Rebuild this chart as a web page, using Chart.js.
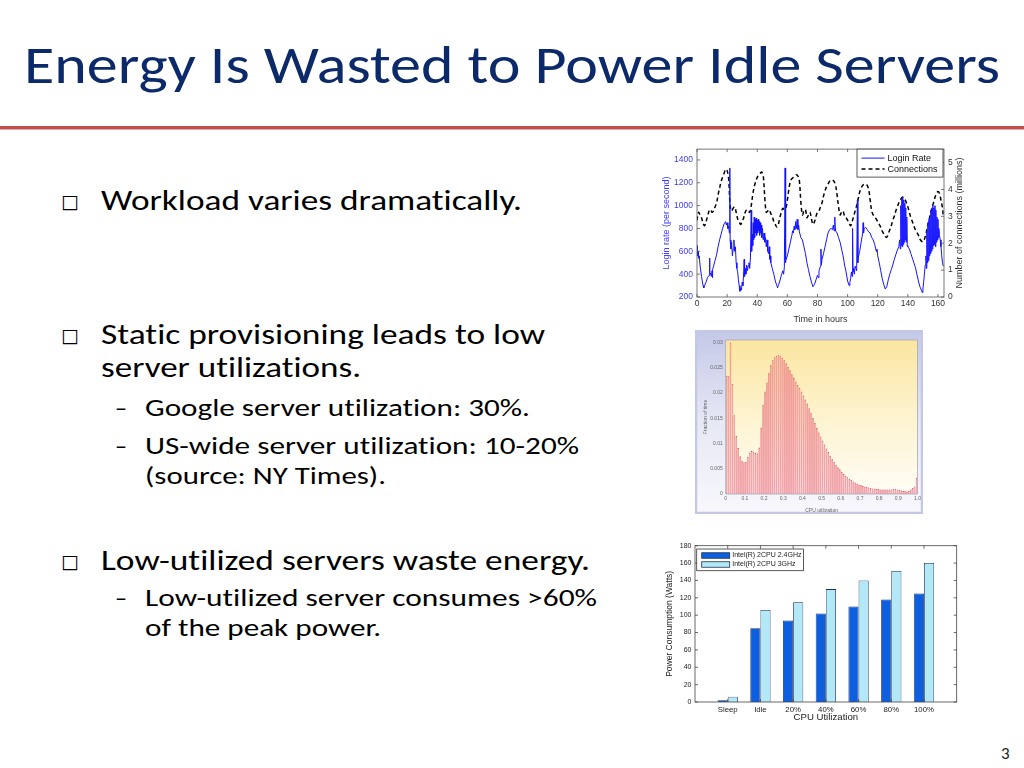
<!DOCTYPE html>
<html><head><meta charset="utf-8">
<script src="https://cdn.jsdelivr.net/npm/chart.js@4.4.1/dist/chart.umd.min.js"></script>
<style>
html,body{margin:0;padding:0;background:#fff;width:1024px;height:768px;overflow:hidden;}
#slide{position:relative;width:1024px;height:768px;background:#fff;}
svg.txt{position:absolute;left:0;top:0;font-variant-ligatures:none;}
.cv{position:absolute;}
.cv canvas{display:block;}
</style></head><body>
<div id="slide">
<svg class="txt" width="1024" height="768" xmlns="http://www.w3.org/2000/svg">
 <text x="24" y="83" textLength="976" lengthAdjust="spacingAndGlyphs" font-family="Carlito, Lato, sans-serif" font-size="53" fill="#0c2a6a">Energy Is Wasted to Power Idle Servers</text>
 <rect x="0" y="126" width="1024" height="3.5" fill="#c0504d"/>
 <g font-family="DejaVu Sans, sans-serif" font-size="19" fill="#000">
  <text x="61" y="208">□</text>
  <text x="61" y="342">□</text>
  <text x="61" y="568">□</text>
 </g>
 <g font-family="Carlito, Lato, sans-serif" font-size="29" font-weight="300" fill="#000">
  <text x="101" y="210" textLength="421" lengthAdjust="spacingAndGlyphs">Workload varies dramatically.</text>
  <text x="101" y="344" textLength="444" lengthAdjust="spacingAndGlyphs">Static provisioning leads to low</text>
  <text x="101" y="377" textLength="260" lengthAdjust="spacingAndGlyphs">server utilizations.</text>
  <text x="101" y="570" textLength="489" lengthAdjust="spacingAndGlyphs">Low-utilized servers waste energy.</text>
 </g>
 <g font-family="Carlito, Lato, sans-serif" font-size="25" font-weight="300" fill="#000">
  <text x="115" y="416" textLength="12" lengthAdjust="spacingAndGlyphs">–</text>
  <text x="145" y="416" textLength="385" lengthAdjust="spacingAndGlyphs">Google server utilization: 30%.</text>
  <text x="115" y="454" textLength="12" lengthAdjust="spacingAndGlyphs">–</text>
  <text x="145" y="454" textLength="434" lengthAdjust="spacingAndGlyphs">US-wide server utilization: 10-20%</text>
  <text x="145" y="484" textLength="241" lengthAdjust="spacingAndGlyphs">(source: NY Times).</text>
  <text x="115" y="606" textLength="12" lengthAdjust="spacingAndGlyphs">–</text>
  <text x="145" y="606" textLength="452" lengthAdjust="spacingAndGlyphs">Low-utilized server consumes &gt;60%</text>
  <text x="145" y="636" textLength="236" lengthAdjust="spacingAndGlyphs">of the peak power.</text>
 </g>
 <text x="1001" y="759" font-family="Carlito, Lato, sans-serif" font-size="17" fill="#222">3</text>
</svg>
<div class="cv" style="left:640px;top:140px;"><canvas id="c1" width="340" height="185"></canvas></div>
<div class="cv" style="left:695px;top:330px;"><canvas id="c2" width="228" height="184"></canvas></div>
<div class="cv" style="left:655px;top:538px;"><canvas id="c3" width="310" height="185"></canvas></div>
</div>
<script>
// ---------------- Data: login rate & connections over one week ----------------
const loginHours = [0,0.3,0.7,1,1.5,2,3,4,4.5,5,6,7,8,8.3,8.6,9,9.5,10,10.2,10.5,11,12,13,14,15,16,17,18,19,19.5,20,20.5,21,21.5,21.8,22,22.5,23,23.5,24,24.5,25,25.5,26,26.5,27,27.5,28,28.5,29,29.5,30,30.5,31,31.3,31.6,32,32.5,33,33.5,34,34.5,35,35.5,36,36.3,36.7,37,37.3,37.6,38,38.3,38.6,39,39.3,39.6,40,40.3,40.6,41,41.3,41.6,42,42.3,42.6,43,43.5,44,44.5,45,45.5,46,46.5,47,47.5,48,48.3,48.6,49,50,51,52,53,53.5,54,55,56,57,57.5,58,58.5,58.7,59,60,61,62,63,63.5,64,64.5,65,65.5,66,66.5,67,67.5,68,69,70,71,72,73,74,75,76,77,78,79,80,80.5,81,82,82.3,82.6,83,84,85,86,87,88,89,90,90.5,91,91.5,91.8,92,93,94,95,96,97,98,99,100,101,101.5,102,102.5,103,103.3,103.6,104,104.5,105,106,106.5,106.8,107,108,109,110,110.3,110.6,111,112,113,114,115,116,117,118,119,119.5,120,121,122,123,124,125,126,127,128,129,130,131,132,133,134,134.5,135,135.3,135.6,136,136.3,136.6,137,137.3,137.6,138,138.3,138.6,139,139.3,139.6,140,141,142,143,144,145,146,147,148,149,149.5,150,150.5,151,151.5,152,152.3,152.6,153,153.3,153.6,154,154.3,154.6,155,155.3,155.6,156,156.3,156.6,157,157.3,157.6,158,158.3,158.6,159,159.3,159.6,160,160.3,160.6,161,161.5,162,162.5,163,163.5];
const loginRate = [650,560,600,540,560,480,380,300,280,300,330,370,390,540,400,410,380,430,370,440,470,520,570,640,700,750,800,840,860,830,850,800,820,760,1330,700,620,680,560,620,700,600,640,500,450,420,350,300,250,280,260,330,300,420,530,380,450,400,480,430,470,500,450,550,960,600,750,650,850,700,900,720,880,760,890,740,870,760,880,780,860,740,850,760,830,720,800,700,760,680,720,640,700,600,580,640,530,560,500,450,400,340,300,280,300,340,390,430,400,460,1330,500,520,560,620,680,740,780,760,820,790,860,800,880,790,830,770,720,700,640,580,500,440,380,330,290,310,350,390,370,430,470,620,480,530,580,640,700,760,790,800,790,830,780,900,800,780,760,720,680,620,560,480,420,340,300,330,360,420,380,800,420,450,400,470,430,1050,500,540,600,680,760,850,760,800,810,790,770,760,720,700,660,600,620,560,500,430,360,310,270,290,350,400,440,480,530,570,610,640,700,620,1000,650,1060,640,1080,660,1050,680,1020,700,980,680,900,650,640,620,580,540,500,460,400,340,290,260,240,270,330,400,480,560,450,780,500,850,520,880,560,900,580,960,600,980,620,1000,650,980,660,1000,640,960,680,900,700,880,720,800,740,700,640,560,500,470];
const connHours = [0,1,2,3,4,5,6,7,8,9,10,11,12,13,14,15,16,17,18,19,20,21,22,23,24,25,26,27,28,29,30,31,32,33,34,35,36,37,38,39,40,41,42,43,44,45,46,47,48,49,50,51,52,53,54,55,56,57,58,59,60,61,62,63,64,65,66,67,68,69,70,71,72,73,74,75,76,77,78,79,80,81,82,83,84,85,86,87,88,89,90,91,92,93,94,95,96,97,98,99,100,101,102,103,104,105,106,107,108,109,110,111,112,113,114,115,116,117,118,119,120,121,122,123,124,125,126,127,128,129,130,131,132,133,134,135,136,137,138,139,140,141,142,143,144,145,146,147,148,149,150,151,152,153,154,155,156,157,158,159,160,161,162,163,163.5];
const connMillions = [2.85,3.15,3.05,2.95,2.75,2.65,2.8,3.0,3.2,3.25,3.15,3.2,3.35,3.5,3.8,4.05,4.3,4.45,4.6,4.75,4.7,4.4,3.4,3.2,3.3,3.35,3.15,2.9,2.8,2.7,2.8,2.95,3.15,3.25,3.2,3.15,3.4,3.8,4.1,4.3,4.45,4.55,4.6,4.65,4.5,3.7,3.15,3.2,3.25,3.1,3.0,2.8,2.7,2.6,2.7,2.95,3.15,3.3,3.25,3.3,3.6,4.0,4.3,4.4,4.45,4.5,4.55,4.5,4.3,3.5,3.05,3.2,3.25,2.95,3.05,3.15,2.9,2.7,2.8,3.0,3.15,3.2,3.35,3.5,3.75,3.95,4.1,4.2,4.3,4.35,4.35,4.3,4.15,3.8,3.35,3.05,3.15,3.2,3.0,2.95,2.85,2.75,2.65,2.8,3.0,3.2,3.4,3.65,3.9,4.05,4.15,4.2,4.2,4.15,4.0,3.6,3.2,3.05,3.0,2.9,2.8,2.7,2.6,2.45,2.35,2.25,2.22,2.35,2.5,2.65,2.85,3.0,3.2,3.35,3.5,3.6,3.7,3.7,3.65,3.5,3.35,3.15,2.95,2.8,2.65,2.5,2.4,2.3,2.15,2.08,2.05,2.15,2.35,2.6,2.85,3.1,3.3,3.5,3.7,3.85,3.92,3.85,3.6,3.3,3.0];
const hourTicksStep = 20;

// ---------------- Data: CPU utilization histogram (100 bins of 0.01) ----------------
const histFraction = [
0.0234,0.0233,0.0300,0.0218,0.0156,0.0115,0.0091,0.0075,0.0066,0.0063,
0.0064,0.0074,0.0082,0.0085,0.0084,0.0081,0.0080,0.0092,0.0131,0.0177,
0.0203,0.0221,0.0239,0.0255,0.0265,0.0271,0.0274,0.0275,0.0273,0.0270,
0.0265,0.0259,0.0252,0.0245,0.0237,0.0230,0.0223,0.0216,0.0210,0.0203,
0.0195,0.0187,0.0179,0.0170,0.0161,0.0151,0.0141,0.0131,0.0122,0.0114,
0.0106,0.0098,0.0090,0.0083,0.0076,0.0070,0.0064,0.0058,0.0053,0.0049,
0.0044,0.0040,0.0036,0.0033,0.0030,0.0028,0.0025,0.0023,0.0021,0.0019,
0.0018,0.0016,0.0015,0.0014,0.0013,0.0012,0.0011,0.0011,0.0010,0.0010,
0.0009,0.0009,0.0009,0.0009,0.0009,0.0009,0.0009,0.0010,0.0010,0.0009,
0.0008,0.0007,0.0006,0.0006,0.0005,0.0006,0.0009,0.0012,0.0015,0.0032];
const histBinWidth = 0.01;
const histBinCenters = histFraction.map((_, i) => +(i * histBinWidth + histBinWidth / 2).toFixed(3));

// ---------------- Data: power consumption ----------------
const powerLabels = ['Sleep','Idle','20%','40%','60%','80%','100%'];
const power24GHz = [2, 85, 94, 102, 110, 118, 125];
const power3GHz  = [6, 106, 115, 130, 140, 151, 160];

// ---------------- Plugins ----------------
const framePlugin = {
  id: 'frame',
  beforeDraw(chart, args, o) {
    const ctx = chart.ctx, a = chart.chartArea;
    ctx.save();
    if (o.figBg) {
      const g = ctx.createLinearGradient(0, 0, 0, chart.height);
      o.figBg.forEach((c, i) => g.addColorStop(i / (o.figBg.length - 1), c));
      ctx.fillStyle = g; ctx.fillRect(0, 0, chart.width, chart.height);
      if (o.figBorder) { ctx.strokeStyle = o.figBorder; ctx.lineWidth = o.figBorderWidth || 2; ctx.strokeRect(1, 1, chart.width - 2, chart.height - 2); }
    }
    if (o.plotBg) {
      const g = ctx.createLinearGradient(0, a.top, 0, a.bottom);
      o.plotBg.forEach((c, i) => g.addColorStop(i / (o.plotBg.length - 1), c));
      ctx.fillStyle = g; ctx.fillRect(a.left, a.top, a.right - a.left, a.bottom - a.top);
    }
    ctx.restore();
  },
  afterDraw(chart, args, o) {
    const ctx = chart.ctx, a = chart.chartArea, L = o.tickLen || 3;
    if (o.sideTitle) {
      const t = o.sideTitle;
      ctx.save();
      ctx.translate(t.x, (a.top + a.bottom) / 2); ctx.rotate(-Math.PI / 2);
      ctx.font = t.size + 'px ' + t.family; ctx.fillStyle = t.color; ctx.textAlign = 'center'; ctx.textBaseline = 'middle';
      ctx.fillText(t.text, 0, 0);
      ctx.restore();
    }
    if (!o.color) return;
    ctx.save();
    ctx.strokeStyle = o.color; ctx.lineWidth = o.lineWidth || 1;
    ctx.strokeRect(a.left, a.top, a.right - a.left, a.bottom - a.top);
    (o.ticks || []).forEach(t => {
      const s = chart.scales[t.axis];
      s.ticks.forEach(tk => {
        if (t.skipEmpty && !tk.label) return;
        const p = s.getPixelForValue(tk.value);
        t.sides.forEach(side => {
          ctx.beginPath();
          if (side === 'bottom') { ctx.moveTo(p, a.bottom); ctx.lineTo(p, a.bottom - L); }
          if (side === 'top') { ctx.moveTo(p, a.top); ctx.lineTo(p, a.top + L); }
          if (side === 'left') { ctx.moveTo(a.left, p); ctx.lineTo(a.left + L, p); }
          if (side === 'right') { ctx.moveTo(a.right, p); ctx.lineTo(a.right - L, p); }
          ctx.stroke();
        });
      });
    });
    ctx.restore();
  }
};

const boxLegend = {
  id: 'boxLegend',
  afterDraw(chart, args, o) {
    if (!o.display) return;
    const ctx = chart.ctx, a = chart.chartArea;
    const x = o.anchor === 'right' ? a.right - o.dx - o.w : a.left + o.dx;
    const y = a.top + o.dy;
    ctx.save();
    ctx.fillStyle = '#fff'; ctx.fillRect(x, y, o.w, o.h);
    ctx.strokeStyle = o.border || '#000'; ctx.lineWidth = 0.8; ctx.strokeRect(x, y, o.w, o.h);
    ctx.font = o.fontSize + 'px ' + o.family; ctx.textBaseline = 'middle'; ctx.textAlign = 'left';
    chart.data.datasets.forEach((ds, i) => {
      const cy = y + o.padTop + i * o.rowH + o.rowH / 2;
      if (o.kind === 'line') {
        ctx.beginPath(); ctx.strokeStyle = ds.borderColor; ctx.lineWidth = ds.borderWidth;
        ctx.setLineDash(ds.borderDash || []); ctx.moveTo(x + o.sx, cy); ctx.lineTo(x + o.sx + o.sw, cy); ctx.stroke(); ctx.setLineDash([]);
      } else {
        ctx.fillStyle = ds.backgroundColor; ctx.fillRect(x + o.sx, cy - o.sh / 2, o.sw, o.sh);
        ctx.strokeStyle = ds.borderColor; ctx.lineWidth = 0.8; ctx.strokeRect(x + o.sx, cy - o.sh / 2, o.sw, o.sh);
      }
      ctx.fillStyle = o.textColor; ctx.fillText(ds.label, x + o.sx + o.sw + o.gap, cy);
    });
    ctx.restore();
  }
};
Chart.register(framePlugin, boxLegend);

const AF = 'Liberation Sans, Arial, sans-serif';
const plain = v => String(v);

// ---------------- Chart 1: login rate / connections ----------------
new Chart(document.getElementById('c1'), {
  type: 'line',
  data: { datasets: [
    { label: 'Login Rate', data: loginHours.map((h, i) => ({ x: h, y: loginRate[i] })), yAxisID: 'y',
      borderColor: '#1414ff', borderWidth: 1, pointRadius: 0, tension: 0 },
    { label: 'Connections', data: connHours.map((h, i) => ({ x: h, y: connMillions[i] })), yAxisID: 'y1',
      borderColor: '#000', borderWidth: 1.5, borderDash: [4, 3], pointRadius: 0, tension: 0.35 }
  ]},
  options: {
    responsive: false, animation: false, events: [],
    layout: { padding: { top: 5, left: 0, right: 0, bottom: 0 } },
    plugins: {
      legend: { display: false }, tooltip: { enabled: false },
      frame: { color: '#555', lineWidth: 0.8, tickLen: 3, ticks: [
        { axis: 'x', sides: ['bottom', 'top'] }, { axis: 'y', sides: ['left'] }, { axis: 'y1', sides: ['right'] } ],
        sideTitle: { text: 'Number of connections (millions)', x: 320, size: 9, family: AF, color: '#333' } },
      boxLegend: { display: true, kind: 'line', anchor: 'right', dx: 1, dy: 0, w: 86, h: 28, padTop: 3.5, rowH: 11,
        sx: 4.5, sw: 23, gap: 3, fontSize: 9, family: AF, textColor: '#111', border: '#333' }
    },
    scales: {
      x: { type: 'linear', min: 0, max: 164,
        ticks: { stepSize: hourTicksStep, includeBounds: false, autoSkip: false, maxRotation: 0, color: '#333', padding: 2, font: { size: 8.5, family: AF }, callback: plain },
        grid: { display: false, drawTicks: false }, border: { display: false },
        title: { display: true, text: 'Time in hours', color: '#333', font: { size: 9, family: AF }, padding: { top: 6.5, bottom: 0 } },
        afterFit(s) { s.height = 28; } },
      y: { type: 'linear', position: 'left', min: 200, max: 1495,
        ticks: { stepSize: 200, includeBounds: false, autoSkip: false, color: '#3c3cf0', padding: 4, font: { size: 8.5, family: AF }, callback: plain },
        grid: { display: false, drawTicks: false }, border: { display: false },
        title: { display: true, text: 'Login rate (per second)', color: '#3c3cf0', font: { size: 9, family: AF }, padding: { top: 21, bottom: 0 } },
        afterFit(s) { s.width = 57; } },
      y1: { type: 'linear', position: 'right', min: 0, max: 5.5,
        ticks: { stepSize: 1, includeBounds: false, autoSkip: false, color: '#333', padding: 4, font: { size: 8.5, family: AF }, callback: plain },
        grid: { display: false, drawTicks: false }, border: { display: false },
        title: { display: false },
        afterFit(s) { s.width = 36; } }
    }
  }
});

// ---------------- Chart 2: histogram ----------------
new Chart(document.getElementById('c2'), {
  type: 'bar',
  data: { datasets: [{ label: 'Fraction of time', data: histBinCenters.map((c, i) => ({ x: c, y: histFraction[i] })),
    backgroundColor: '#f4a3b0', borderColor: '#dc3c52', borderWidth: { top: 0.9, left: 0.5, right: 0.5, bottom: 0 },
    barPercentage: 0.82, categoryPercentage: 1 }] },
  options: {
    responsive: false, animation: false, events: [],
    layout: { padding: { top: 10, left: 0, right: 5.3, bottom: 0 } },
    plugins: {
      legend: { display: false }, tooltip: { enabled: false },
      frame: { color: '#a8a8b8', lineWidth: 0.8, tickLen: 0, ticks: [],
        figBg: ['#c4c8e8', '#e6e8f5', '#f8f8fc'], figBorder: '#c4c8e6', figBorderWidth: 2.5,
        plotBg: ['#fbe6a0', '#fdf3cf', '#fffdf5'] },
      boxLegend: { display: false }
    },
    scales: {
      x: { type: 'linear', min: 0, max: 1, offset: false,
        ticks: { stepSize: 0.1, includeBounds: false, autoSkip: false, maxRotation: 0, color: '#666', padding: 2, font: { size: 5, family: AF },
          callback: v => v === 0 ? '0' : v.toFixed(1) },
        grid: { display: false, drawTicks: false }, border: { display: false },
        title: { display: true, text: 'CPU utilization', color: '#666', font: { size: 5, family: AF }, padding: { top: 4.3, bottom: 0 } },
        afterFit(s) { s.height = 20; } },
      y: { type: 'linear', min: 0, max: 0.0305,
        ticks: { stepSize: 0.005, includeBounds: false, autoSkip: false, color: '#666', padding: 3, font: { size: 5, family: AF },
          callback: v => v === 0 ? '0' : String(+v.toFixed(3)) },
        grid: { display: false, drawTicks: false }, border: { display: false },
        title: { display: true, text: 'Fraction of time', color: '#666', font: { size: 5, family: AF }, padding: { top: 8, bottom: 0 } },
        afterFit(s) { s.width = 30.7; } }
    }
  }
});

// ---------------- Chart 3: power consumption ----------------
new Chart(document.getElementById('c3'), {
  type: 'bar',
  data: { datasets: [
    { label: 'Intel(R) 2CPU 2.4GHz', data: power24GHz.map((v, i) => ({ x: i + 1, y: v })),
      backgroundColor: '#0d5fe0', borderColor: '#1b2f55', borderWidth: 0.8, barPercentage: 1, categoryPercentage: 0.62 },
    { label: 'Intel(R) 2CPU 3GHz', data: power3GHz.map((v, i) => ({ x: i + 1, y: v })),
      backgroundColor: '#b3e8f7', borderColor: '#1b2f55', borderWidth: 0.8, barPercentage: 1, categoryPercentage: 0.62 }
  ]},
  options: {
    responsive: false, animation: false, events: [],
    layout: { padding: { top: 5, left: 0, right: 8.3, bottom: 0 } },
    plugins: {
      legend: { display: false }, tooltip: { enabled: false },
      frame: { color: '#444', lineWidth: 0.8, tickLen: 3, ticks: [
        { axis: 'x', sides: ['bottom', 'top'], skipEmpty: true }, { axis: 'y', sides: ['left', 'right'] } ] },
      boxLegend: { display: true, kind: 'box', anchor: 'left', dx: 1.7, dy: 3.3, w: 106.7, h: 21.7, padTop: 2, rowH: 9,
        sx: 5, sw: 28, sh: 5.5, gap: 2.5, fontSize: 7, family: AF, textColor: '#222', border: '#333' }
    },
    scales: {
      x: { type: 'linear', min: 0, max: 8, offset: false,
        ticks: { stepSize: 1, includeBounds: false, autoSkip: false, maxRotation: 0, color: '#222', padding: 3, font: { size: 7.8, family: AF },
          callback: v => powerLabels[v - 1] ?? '' },
        grid: { display: false, drawTicks: false }, border: { display: false },
        title: { display: true, text: 'CPU Utilization', color: '#222', font: { size: 9.6, family: AF }, padding: { top: 1.8, bottom: 0 } },
        afterFit(s) { s.height = 21; } },
      y: { type: 'linear', min: 0, max: 180,
        ticks: { stepSize: 20, includeBounds: false, autoSkip: false, color: '#222', padding: 3.5, font: { size: 7, family: AF }, callback: plain },
        grid: { display: false, drawTicks: false }, border: { display: false },
        title: { display: true, text: 'Power Consumption (Watts)', color: '#222', font: { size: 8.5, family: AF }, padding: { top: 9.9, bottom: 0 } },
        afterFit(s) { s.width = 40; } }
    }
  }
});
</script>
</body></html>
